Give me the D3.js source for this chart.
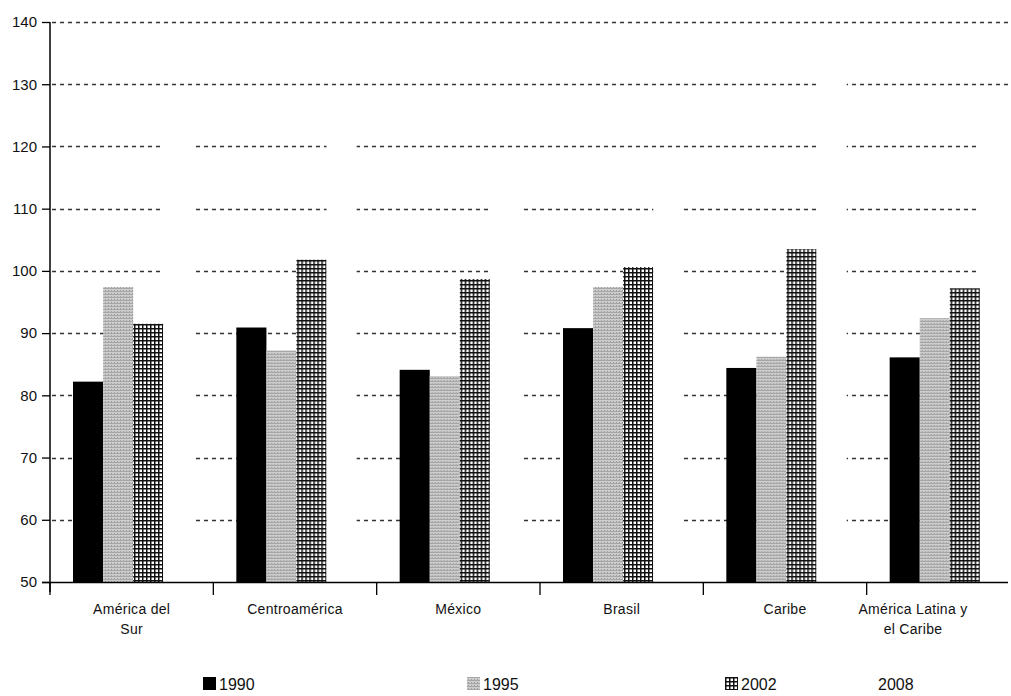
<!DOCTYPE html>
<html>
<head>
<meta charset="utf-8">
<script src="https://cdn.jsdelivr.net/npm/d3@7"></script>
<style>
  html, body { margin: 0; padding: 0; background: #fff; }
  svg { display: block; font-family: "Liberation Sans", Arial, sans-serif; }
</style>
</head>
<body>
<svg id="chart" width="1011" height="696"></svg>
<script>
// ---- data ----
const categories = [["América del", "Sur"], ["Centroamérica"], ["México"], ["Brasil"], ["Caribe"], ["América Latina y", "el Caribe"]];
const seriesNames = ["1990", "1995", "2002", "2008"];
const values1990 = [82.2, 90.9, 84.1, 90.8, 84.4, 86.1];
const values1995 = [97.4, 87.2, 83.1, 97.4, 86.2, 92.4];
const values2002 = [91.5, 101.8, 98.7, 100.6, 103.5, 97.2];
const values2008 = [125, 126, 115, 116, 134, 124];
const yTicks = [50, 60, 70, 80, 90, 100, 110, 120, 130, 140];

const seriesValues = [values1990, values1995, values2002, values2008];

const svg = d3.select("#chart");
const defs = svg.append("defs");

// 1995 : light gray halftone
const p1 = defs.append("pattern").attr("id", "p1995").attr("patternUnits", "userSpaceOnUse")
  .attr("width", 3).attr("height", 3);
p1.append("rect").attr("width", 3).attr("height", 3).attr("fill", "#cdcdcd");
p1.append("rect").attr("y", 0).attr("width", 3).attr("height", 1).attr("fill", "#a6a6a6");
p1.append("rect").attr("x", 1).attr("y", 2).attr("width", 1).attr("height", 1).attr("fill", "#9c9c9c");

// 2002 : dark crosshatch grid
const p2 = defs.append("pattern").attr("id", "p2002").attr("patternUnits", "userSpaceOnUse")
  .attr("width", 4).attr("height", 4);
p2.append("rect").attr("width", 4).attr("height", 4).attr("fill", "#fff");
p2.append("rect").attr("width", 4).attr("height", 1.5).attr("fill", "#111");
p2.append("rect").attr("width", 1.5).attr("height", 4).attr("fill", "#111");

const fills = ["#000", "url(#p1995)", "url(#p2002)", "#fff"];

// ---- scales ----
const x0 = 50, xEnd = 1030, yTop = 22, yBase = 582;
const x = d3.scaleBand().domain(d3.range(categories.length)).range([x0, xEnd]).padding(0);
const step = x.step();
const xs = d3.scaleBand().domain(seriesNames).range([23, step - 20]).padding(0);
const y = d3.scaleLinear().domain([50, 140]).range([yBase, yTop]);

// gridlines
svg.append("g").selectAll("line").data(yTicks.filter(d => d > 50)).join("line")
  .attr("x1", x0 + 2).attr("x2", 1008)
  .attr("y1", d => Math.round(y(d)) + 0.5).attr("y2", d => Math.round(y(d)) + 0.5)
  .attr("stroke", "#333").attr("stroke-width", 1.4).attr("stroke-dasharray", "4,4");

// bars
const groups = svg.append("g").selectAll("g").data(categories).join("g")
  .attr("transform", (d, i) => `translate(${x(i)},0)`);
groups.selectAll("rect").data((d, i) => seriesNames.map((s, j) => ({ s, j, v: seriesValues[j][i] }))).join("rect")
  .attr("x", d => xs(d.s))
  .attr("width", xs.bandwidth())
  .attr("y", d => y(d.v))
  .attr("height", d => y(50) - y(d.v))
  .attr("fill", d => fills[d.j]);

// y axis
const yAxis = svg.append("g").attr("transform", `translate(${x0},0)`)
  .call(d3.axisLeft(y).tickValues(yTicks).tickSize(8).tickPadding(5).tickSizeOuter(0));
yAxis.attr("font-size", 15).attr("font-family", "'Liberation Sans', Arial, sans-serif");
yAxis.select(".domain").remove();
yAxis.selectAll(".tick line").attr("stroke", "#000").attr("stroke-width", 1.3);
yAxis.selectAll(".tick text").attr("fill", "#111");
svg.append("line").attr("x1", x0).attr("x2", x0).attr("y1", yTop).attr("y2", yBase + 10)
  .attr("stroke", "#000").attr("stroke-width", 1.5);

// x axis baseline + ticks
svg.append("line").attr("x1", 42).attr("x2", 1008).attr("y1", yBase + 0.5).attr("y2", yBase + 0.5)
  .attr("stroke", "#000").attr("stroke-width", 1.5);
const boundaries = d3.range(categories.length).map(i => x(i));
svg.append("g").selectAll("line").data(boundaries).join("line")
  .attr("x1", d => d).attr("x2", d => d).attr("y1", yBase).attr("y2", yBase + 13)
  .attr("stroke", "#000").attr("stroke-width", 1.3);

// category labels
const labelG = svg.append("g").attr("font-size", 14).attr("fill", "#111").attr("text-anchor", "middle")
  .attr("letter-spacing", "0.3px");
categories.forEach((lines, i) => {
  let cx = x(i) + step / 2;
  cx = Math.min(cx, 913);
  const t = labelG.append("text").attr("x", cx).attr("y", yBase + 32);
  lines.forEach((ln, k) => t.append("tspan").attr("x", cx).attr("dy", k === 0 ? 0 : 20).text(ln));
});

// legend
const legendX = [203, 467, 725, 862];
const legend = svg.append("g").selectAll("g").data(seriesNames).join("g")
  .attr("transform", (d, i) => `translate(${legendX[i]},677)`);
legend.append("rect").attr("width", 13).attr("height", 13).attr("fill", (d, i) => fills[i]);
legend.append("text").attr("x", 16).attr("y", 13).attr("font-size", 16).attr("fill", "#111").text(d => d);
</script>
</body>
</html>
